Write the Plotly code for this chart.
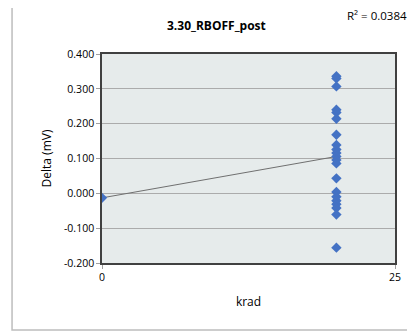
import plotly.graph_objects as go
import numpy as np

# dose points (krad) and measured delta (mV)
krad = [0] + [20] * 21
delta = [-0.013,
         0.336, 0.330, 0.307, 0.240, 0.232, 0.214,
         0.168, 0.139, 0.126, 0.116, 0.106, 0.096, 0.086,
         0.043,
         0.004, -0.010, -0.021, -0.031, -0.042, -0.061,
         -0.156]

title_text = "3.30_RBOFF_post"
r2_text = "R² = 0.0384"
x_ticks = [0, 25]
y_ticks = [-0.2, -0.1, 0.0, 0.1, 0.2, 0.3, 0.4]
y_tick_labels = ["-0.200", "-0.100", "0.000", "0.100", "0.200", "0.300", "0.400"]

FONT = "Open Sans"

# linear trendline over the data range, like the Excel one
x = np.array(krad, dtype=float)
y = np.array(delta, dtype=float)
slope, intercept = np.polyfit(x, y, 1)
tx = np.array([x.min(), x.max()])
ty = slope * tx + intercept

fig = go.Figure()

fig.add_trace(go.Scatter(
    x=tx, y=ty, mode="lines",
    line=dict(color="#6f6f6f", width=1),
    showlegend=False, hoverinfo="skip"
))

fig.add_trace(go.Scatter(
    x=krad, y=delta, mode="markers",
    marker=dict(symbol="diamond", size=8, color="#4472C4"),
    showlegend=False
))

# outer chart frame
fig.add_shape(type="rect", xref="paper", yref="paper",
              x0=-0.307, x1=1.1, y0=-0.321, y1=1.244,
              line=dict(color="#bdbdbd", width=1.5), layer="below")

fig.add_annotation(text=f"<b>{title_text}</b>", xref="paper", yref="paper",
                   x=0.39, y=1.135, yanchor="middle", showarrow=False,
                   font=dict(family=FONT, size=12, color="#000000"))
fig.add_annotation(text=r2_text, xref="paper", yref="paper",
                   x=1.048, y=1.183, xanchor="right", yanchor="middle",
                   showarrow=False,
                   font=dict(family=FONT, size=11.5, color="#000000"))

# page body has an 8px margin, so the figure is 8px smaller than the window
fig.update_layout(
    width=407, height=325,
    margin=dict(l=94, r=20, t=46, b=70),
    paper_bgcolor="white",
    plot_bgcolor="#E6EBEB",
    font=dict(family=FONT, size=10.5, color="#000000"),
    xaxis=dict(
        range=[0, 25], tickvals=x_ticks, showgrid=False, zeroline=False,
        showline=True, linecolor="#404040", linewidth=1.5, mirror=True,
        ticks="outside", ticklen=4, tickcolor="#a0a0a0",
        title=dict(text="krad", font=dict(size=12), standoff=14),
    ),
    yaxis=dict(
        range=[-0.2, 0.4], tickvals=y_ticks, ticktext=y_tick_labels,
        showgrid=True, gridcolor="#ababab", gridwidth=1, zeroline=False,
        showline=True, linecolor="#404040", linewidth=1.5, mirror=True,
        ticks="outside", ticklen=4, tickcolor="#a0a0a0",
        title=dict(text="Delta (mV)", font=dict(size=12), standoff=10),
    ),
)

fig.write_html("out.html")
